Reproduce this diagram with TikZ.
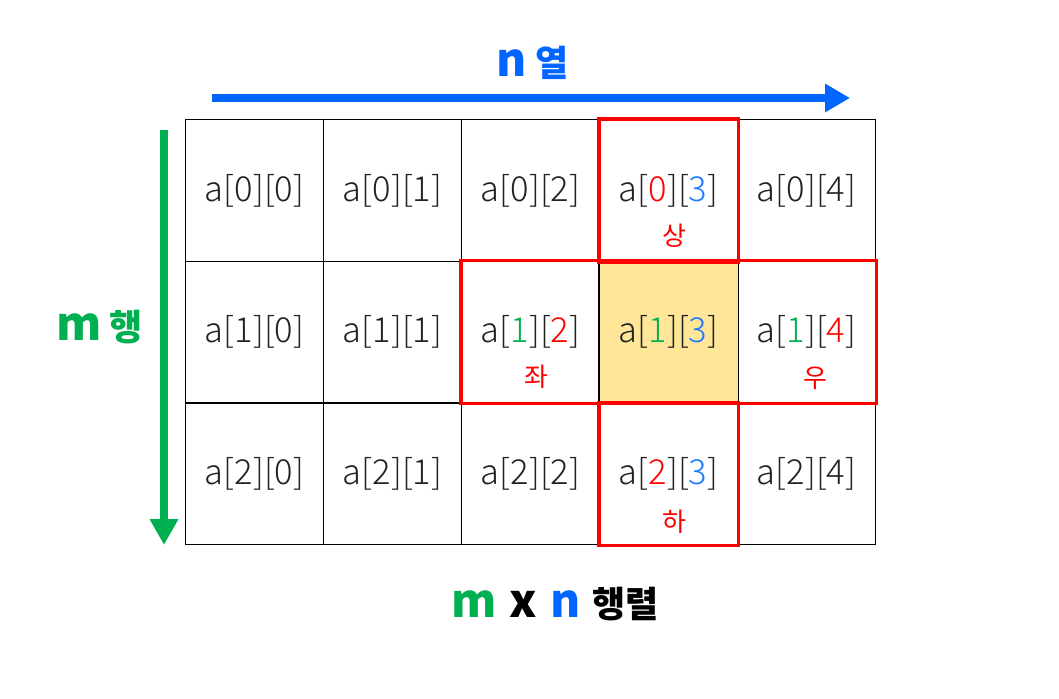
\documentclass[tikz,border=0pt]{standalone}
\usepackage{fontspec}
\usetikzlibrary{arrows.meta}
\setmainfont{Noto Sans CJK KR}
\newfontfamily\lightfont{Noto Sans CJK KR Light}
\definecolor{myblue}{HTML}{0066FF}
\definecolor{tblue}{HTML}{1F7BFF}
\definecolor{mygreen}{HTML}{00B050}
\definecolor{myred}{HTML}{FF0000}
\definecolor{myyellow}{HTML}{FFE699}
\definecolor{txt}{HTML}{222222}
\newcommand{\latn}[1]{{\fontsize{46}{50}\selectfont #1}}
\tikzset{
  cell/.style={draw=black, line width=1.2pt, minimum width=138pt, minimum height=141.7pt, inner sep=0pt, anchor=north west},
  celltext/.style={font=\lightfont\fontsize{34.5}{38}\selectfont, text=txt, inner sep=0pt},
  dirlabel/.style={font=\fontsize{26}{30}\selectfont, text=myred, inner sep=0pt},
  redbox/.style={draw=myred, line width=3.4pt},
  title/.style={font=\bfseries\fontsize{36}{40}\selectfont, inner sep=0pt, anchor=base}
}
\begin{document}
\begin{tikzpicture}[x=1pt,y=-1pt]
\useasboundingbox (0,0) rectangle (1059,698);
% cells
\foreach \r in {0,1,2}{
  \foreach \c in {0,...,4}{
    \node[cell] (c\r\c) at ({185+138*\c},{119+141.67*\r}) {};
  }
}
\fill[myyellow] (c13.north west) rectangle (c13.south east);
\draw[line width=1.2pt] (c13.north west) rectangle (c13.south east);
% plain texts
\foreach \r/\c in {0/0,0/1,0/2,0/4,1/0,1/1,2/0,2/1,2/2,2/4}{
  \node[celltext] at (c\r\c.center) {a[\r][\c]};
}
\node[celltext] (t03) at (c03.center) {a[\textcolor{myred}{0}][\textcolor{tblue}{3}]};
\node[celltext] (t12) at (c12.center) {a[\textcolor{mygreen}{1}][\textcolor{myred}{2}]};
\node[celltext] (t13) at (c13.center) {a[\textcolor{mygreen}{1}][\textcolor{tblue}{3}]};
\node[celltext] (t14) at (c14.center) {a[\textcolor{mygreen}{1}][\textcolor{myred}{4}]};
\node[celltext] (t23) at (c23.center) {a[\textcolor{myred}{2}][\textcolor{tblue}{3}]};
\node[dirlabel] (up) at ([xshift=5.5pt,yshift=-45pt]c03.center) {상};
\node[dirlabel] (left) at ([xshift=6pt,yshift=-45pt]c12.center) {좌};
\node[dirlabel] (right) at ([xshift=9pt,yshift=-46pt]c14.center) {우};
\node[dirlabel] (down) at ([xshift=5.5pt,yshift=-48pt]c23.center) {하};
% red boxes
\draw[redbox] (c03.north west) rectangle (c03.south east);
\draw[redbox] (c12.north west) rectangle (c14.south east);
\draw[redbox] (c23.north west) rectangle (c23.south east);
% arrows
\coordinate (ns) at (212,98);
\coordinate (ne) at (850,98);
\draw[myblue, line width=8.5pt, -{Triangle[length=25pt,width=27pt]}] (ns) -- (ne);
\coordinate (ms) at (164,130);
\coordinate (me) at (164,545);
\draw[mygreen, line width=7.5pt, -{Triangle[length=26pt,width=27pt]}] (ms) -- (me);
% titles
\node[title, text=myblue] (ntitle) at (532.5,77) {\latn{n}\hspace{8pt}열};
\node[title, text=mygreen] (mtitle) at (99.5,340) {\latn{m}\hspace{7pt}행};
\node[title] (mxn) at (555,617.5) {\textcolor{mygreen}{\latn{m}}\hspace{13pt}\latn{x}\hspace{13pt}\textcolor{myblue}{\latn{n}}\hspace{12pt}행렬};
\end{tikzpicture}
\end{document}
